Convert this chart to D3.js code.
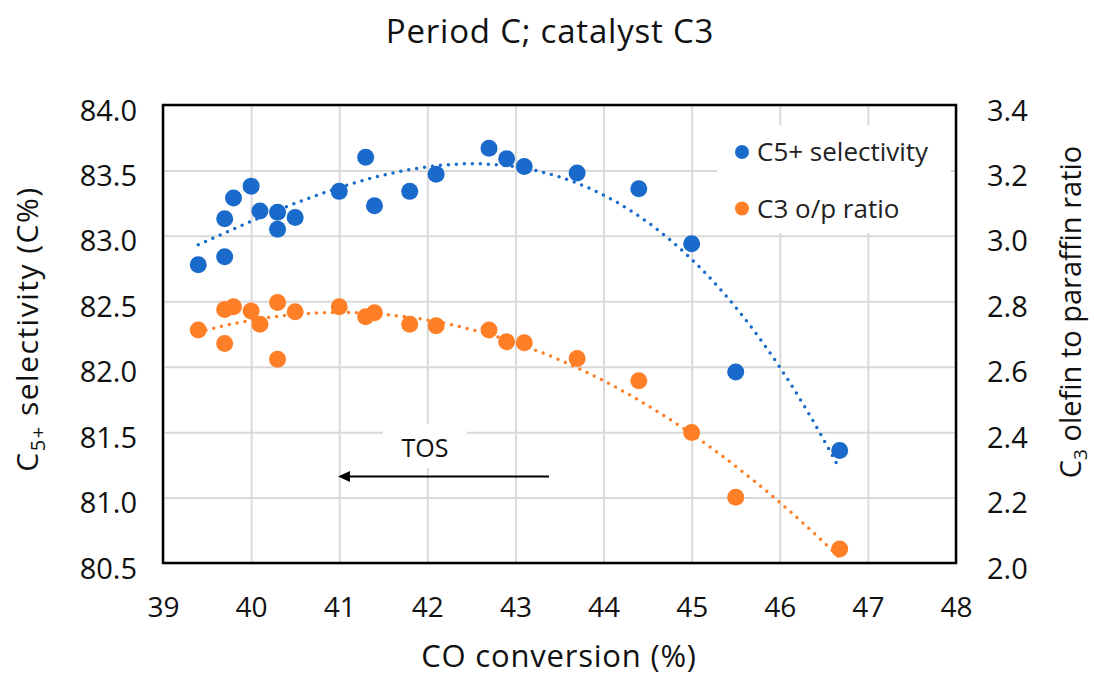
<!DOCTYPE html>
<html>
<head>
<meta charset="utf-8">
<script src="https://cdn.jsdelivr.net/npm/d3@7"></script>
<style>
	body { margin: 0; background: #fff; }
	svg { display: block; font-family: "Open Sans", sans-serif; }
</style>
</head>
<body>
<svg id="chart" width="1094" height="677"></svg>
<script>
// CO conversion (%) shared by both series
var conversion = [39.4, 39.7, 39.7, 39.8, 40.0, 40.1, 40.3, 40.3, 40.5, 41.0, 41.3,
	41.4, 41.8, 42.1, 42.7, 42.9, 43.1, 43.7, 44.4, 45.0, 45.5, 46.68];
var c5Selectivity = [82.78, 82.84, 83.13, 83.29, 83.38, 83.19, 83.18, 83.05, 83.14, 83.34, 83.60,
	83.23, 83.34, 83.47, 83.67, 83.59, 83.53, 83.48, 83.36, 82.94, 81.96, 81.36];
var c3Ratio = [2.712, 2.671, 2.775, 2.783, 2.770, 2.730, 2.796, 2.623, 2.768, 2.783, 2.753,
	2.765, 2.730, 2.725, 2.712, 2.676, 2.673, 2.625, 2.557, 2.399, 2.201, 2.043];

var xTicks = [39, 40, 41, 42, 43, 44, 45, 46, 47, 48];
var leftTicks = [80.5, 81.0, 81.5, 82.0, 82.5, 83.0, 83.5, 84.0];
var rightTicks = [2.0, 2.2, 2.4, 2.6, 2.8, 3.0, 3.2, 3.4];
var seriesNames = ['C5+ selectivity', 'C3 o/p ratio'];
var seriesColors = ['#1a6acb', '#ff7f27'];

var plot = { left: 163, right: 956, top: 105, bottom: 563 };

var svg = d3.select('#chart');

var x = d3.scaleLinear().domain([39, 48]).range([plot.left, plot.right]);
var yL = d3.scaleLinear().domain([80.5, 84.0]).range([plot.bottom, plot.top]);
var yR = d3.scaleLinear().domain([2.0, 3.4]).range([plot.bottom, plot.top]);

// least squares polynomial (trendline like Excel)
function polyFit(xs, ys, order) {
	var n = order + 1, x0 = 43;
	var A = [], b = [];
	for (var i = 0; i < n; i++) { A.push(new Array(n).fill(0)); b.push(0); }
	xs.forEach(function(xv, k) {
		var t = xv - x0;
		for (var i = 0; i < n; i++) {
			b[i] += ys[k] * Math.pow(t, i);
			for (var j = 0; j < n; j++) A[i][j] += Math.pow(t, i + j);
		}
	});
	for (var c = 0; c < n; c++) {
		var p = c;
		for (var r = c + 1; r < n; r++) if (Math.abs(A[r][c]) > Math.abs(A[p][c])) p = r;
		[A[c], A[p]] = [A[p], A[c]]; [b[c], b[p]] = [b[p], b[c]];
		for (var r = c + 1; r < n; r++) {
			var f = A[r][c] / A[c][c];
			for (var j = c; j < n; j++) A[r][j] -= f * A[c][j];
			b[r] -= f * b[c];
		}
	}
	var coef = new Array(n).fill(0);
	for (var i = n - 1; i >= 0; i--) {
		var s = b[i];
		for (var j = i + 1; j < n; j++) s -= A[i][j] * coef[j];
		coef[i] = s / A[i][i];
	}
	return function(xv) {
		var t = xv - x0;
		return coef.reduce(function(acc, c, i) { return acc + c * Math.pow(t, i); }, 0);
	};
}

// gridlines
svg.append('g')
	.attr('class', 'grid')
	.attr('transform', 'translate(0,' + plot.bottom + ')')
	.call(d3.axisBottom(x).tickValues(xTicks).tickSize(-(plot.bottom - plot.top)).tickFormat(''))
	.call(g => g.select('.domain').remove())
	.selectAll('line').attr('stroke', '#d9d9d9').attr('stroke-width', 2);

svg.append('g')
	.attr('class', 'grid')
	.attr('transform', 'translate(' + plot.left + ',0)')
	.call(d3.axisLeft(yL).tickValues(leftTicks).tickSize(-(plot.right - plot.left)).tickFormat(''))
	.call(g => g.select('.domain').remove())
	.selectAll('line').attr('stroke', '#d9d9d9').attr('stroke-width', 2);

// tick labels
var xAxis = svg.append('g')
	.attr('transform', 'translate(0,' + plot.bottom + ')')
	.call(d3.axisBottom(x).tickValues(xTicks).tickSize(0).tickPadding(0).tickFormat(d3.format('d')));
xAxis.select('.domain').remove();
xAxis.selectAll('text').attr('dy', 54).attr('font-size', 28).attr('fill', '#111');

var lAxis = svg.append('g')
	.attr('transform', 'translate(' + plot.left + ',0)')
	.call(d3.axisLeft(yL).tickValues(leftTicks).tickSize(0).tickPadding(26).tickFormat(d3.format('.1f')));
lAxis.select('.domain').remove();
lAxis.selectAll('text').attr('dy', 15).attr('font-size', 29).attr('fill', '#111');

var rAxis = svg.append('g')
	.attr('transform', 'translate(' + plot.right + ',0)')
	.call(d3.axisRight(yR).tickValues(rightTicks).tickSize(0).tickPadding(31).tickFormat(d3.format('.1f')));
rAxis.select('.domain').remove();
rAxis.selectAll('text').attr('dy', 15).attr('font-size', 29).attr('fill', '#111');

svg.selectAll('.tick text').attr('font-family', '"Open Sans", sans-serif');

// markers
var pts = svg.append('g');
pts.selectAll('circle.c5')
	.data(conversion.map((d, i) => [d, c5Selectivity[i]]))
	.enter().append('circle')
	.attr('class', 'c5')
	.attr('cx', d => x(d[0]))
	.attr('cy', d => yL(d[1]))
	.attr('r', 8.5)
	.attr('fill', seriesColors[0]);

pts.selectAll('circle.c3')
	.data(conversion.map((d, i) => [d, c3Ratio[i]]))
	.enter().append('circle')
	.attr('class', 'c3')
	.attr('cx', d => x(d[0]))
	.attr('cy', d => yR(d[1]))
	.attr('r', 8.5)
	.attr('fill', seriesColors[1]);

// dotted trendlines
var xs = d3.range(d3.min(conversion), d3.max(conversion) + 0.001, 0.02);
var fitC5 = polyFit(conversion, c5Selectivity, 3);
var fitC3 = polyFit(conversion, c3Ratio, 2);

svg.append('path')
	.datum(xs)
	.attr('d', d3.line().x(d => x(d)).y(d => yL(fitC5(d))))
	.attr('fill', 'none')
	.attr('stroke', seriesColors[0])
	.attr('stroke-width', 3.5)
	.attr('stroke-linecap', 'round')
	.attr('stroke-dasharray', '0 8');

svg.append('path')
	.datum(xs)
	.attr('d', d3.line().x(d => x(d)).y(d => yR(fitC3(d))))
	.attr('fill', 'none')
	.attr('stroke', seriesColors[1])
	.attr('stroke-width', 3.5)
	.attr('stroke-linecap', 'round')
	.attr('stroke-dasharray', '0 8');

// frame
svg.append('rect')
	.attr('x', plot.left)
	.attr('y', plot.top)
	.attr('width', plot.right - plot.left)
	.attr('height', plot.bottom - plot.top)
	.attr('fill', 'none')
	.attr('stroke', '#000')
	.attr('stroke-width', 2.5);

// legend
var legend = svg.append('g');
legend.append('rect')
	.attr('x', 717).attr('y', 125)
	.attr('width', 234).attr('height', 108)
	.attr('fill', '#fff');
seriesNames.forEach(function(name, i) {
	var ly = 152 + i * 56.5;
	legend.append('circle')
		.attr('cx', 742).attr('cy', ly).attr('r', 7)
		.attr('fill', seriesColors[i]);
	legend.append('text')
		.attr('x', 757).attr('y', ly + 9)
		.attr('font-size', 26)
		.attr('fill', '#222')
		.text(name);
});

// TOS annotation
svg.append('rect')
	.attr('x', 383).attr('y', 424)
	.attr('width', 84).attr('height', 44)
	.attr('fill', '#fff');
svg.append('text')
	.attr('x', 425).attr('y', 457)
	.attr('text-anchor', 'middle')
	.attr('font-size', 25)
	.attr('fill', '#111')
	.text('TOS');
svg.append('line')
	.attr('x1', 549).attr('y1', 476.5)
	.attr('x2', 348).attr('y2', 476.5)
	.attr('stroke', '#000')
	.attr('stroke-width', 2.2);
svg.append('path')
	.attr('d', 'M338,476.5 L350,471 L350,482 Z')
	.attr('fill', '#000');

// titles
svg.append('text')
	.attr('x', 550).attr('y', 43)
	.attr('text-anchor', 'middle')
	.attr('font-size', 33)
	.attr('letter-spacing', 0.8)
	.attr('fill', '#111')
	.text('Period C; catalyst C3');

svg.append('text')
	.attr('x', 559).attr('y', 667)
	.attr('text-anchor', 'middle')
	.attr('font-size', 31)
	.attr('letter-spacing', 0.8)
	.attr('fill', '#111')
	.text('CO conversion (%)');

var lt = svg.append('text')
	.attr('transform', 'translate(38,329) rotate(-90)')
	.attr('text-anchor', 'middle')
	.attr('font-size', 30)
	.attr('letter-spacing', 1.5)
	.attr('fill', '#111');
lt.append('tspan').text('C');
lt.append('tspan').attr('font-size', 20).attr('dy', 7).text('5+');
lt.append('tspan').attr('dy', -7).text(' selectivity (C%)');

var rt = svg.append('text')
	.attr('transform', 'translate(1081,312) rotate(-90)')
	.attr('text-anchor', 'middle')
	.attr('font-size', 29)
	.attr('fill', '#111');
rt.append('tspan').text('C');
rt.append('tspan').attr('font-size', 19).attr('dy', 6).text('3');
rt.append('tspan').attr('dy', -6).text(' olefin to paraffin ratio');
</script>
</body>
</html>
